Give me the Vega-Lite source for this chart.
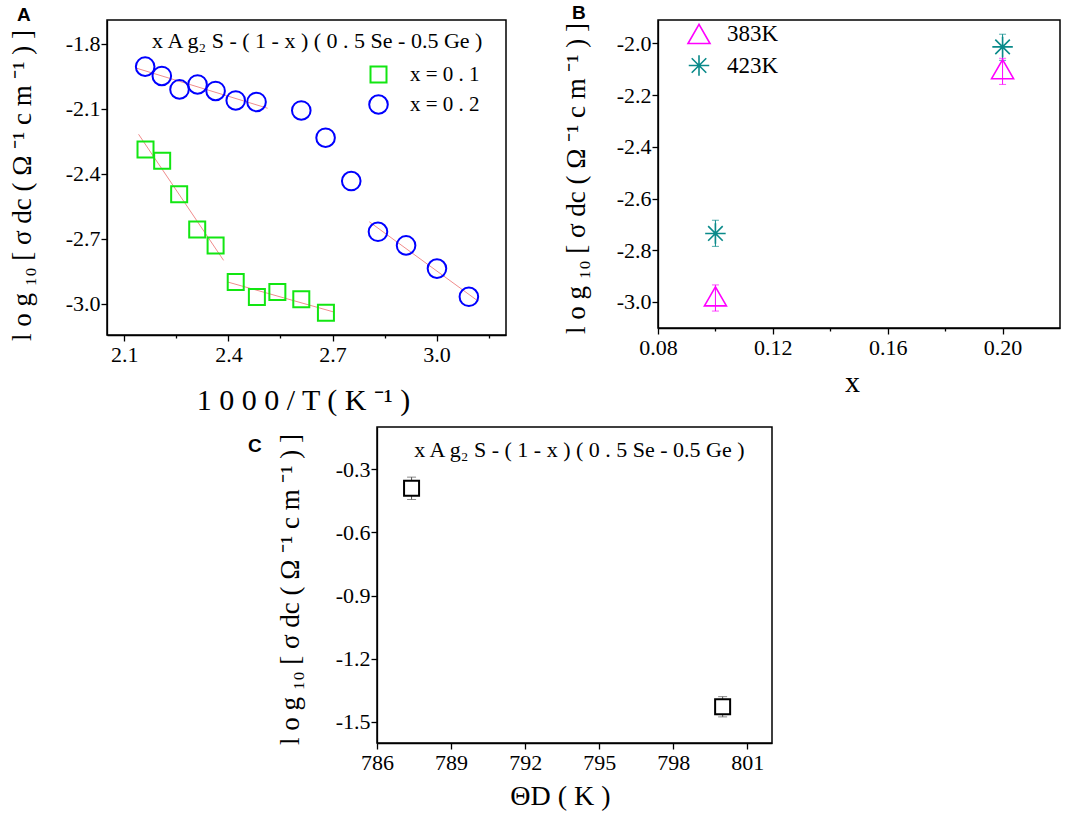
{
  "$schema": "https://vega.github.io/schema/vega-lite/v6.json",
  "padding": {"left": 7, "top": 3, "right": 0, "bottom": 0},
  "background": "white",
  "bounds": "flush",
  "spacing": 407,
  "resolve": {
    "scale": {"color": "independent", "shape": "independent", "size": "independent", "stroke": "independent", "fill": "independent"},
    "legend": {"color": "independent", "shape": "independent"}
  },
  "config": {
    "view": {"stroke": "black", "strokeWidth": 1.5},
    "font": "Liberation Serif",
    "point": {"opacity": 1},
    "axis": {
      "grid": false,
      "domainColor": "black",
      "domainWidth": 1.3,
      "tickColor": "black",
      "tickWidth": 1.3,
      "labelColor": "black",
      "labelFont": "Liberation Serif",
      "labelFontSize": 22,
      "labelFlush": false,
      "labelOverlap": false,
      "labelBound": false,
      "titleColor": "black",
      "titleFont": "Liberation Serif",
      "titleFontWeight": "normal"
    },
    "axisX": {"labelPadding": 3},
    "axisY": {"labelPadding": 1},
    "legend": {"labelFont": "Liberation Serif", "labelColor": "black", "labelFontSize": 21, "padding": 0}
  },
  "datasets": {
    "a_pts": [
      {"series": "x = 0 . 2", "x": 2.160, "y": -1.906},
      {"series": "x = 0 . 2", "x": 2.208, "y": -1.949},
      {"series": "x = 0 . 2", "x": 2.259, "y": -2.011},
      {"series": "x = 0 . 2", "x": 2.311, "y": -1.988},
      {"series": "x = 0 . 2", "x": 2.363, "y": -2.018},
      {"series": "x = 0 . 2", "x": 2.421, "y": -2.062},
      {"series": "x = 0 . 2", "x": 2.481, "y": -2.069},
      {"series": "x = 0 . 2", "x": 2.610, "y": -2.108},
      {"series": "x = 0 . 2", "x": 2.680, "y": -2.234},
      {"series": "x = 0 . 2", "x": 2.754, "y": -2.434},
      {"series": "x = 0 . 2", "x": 2.831, "y": -2.668},
      {"series": "x = 0 . 2", "x": 2.912, "y": -2.731},
      {"series": "x = 0 . 2", "x": 3.001, "y": -2.838},
      {"series": "x = 0 . 2", "x": 3.093, "y": -2.968},
      {"series": "x = 0 . 1", "x": 2.161, "y": -2.288},
      {"series": "x = 0 . 1", "x": 2.209, "y": -2.340},
      {"series": "x = 0 . 1", "x": 2.258, "y": -2.495},
      {"series": "x = 0 . 1", "x": 2.310, "y": -2.658},
      {"series": "x = 0 . 1", "x": 2.363, "y": -2.731},
      {"series": "x = 0 . 1", "x": 2.421, "y": -2.900},
      {"series": "x = 0 . 1", "x": 2.482, "y": -2.969},
      {"series": "x = 0 . 1", "x": 2.541, "y": -2.946},
      {"series": "x = 0 . 1", "x": 2.610, "y": -2.980},
      {"series": "x = 0 . 1", "x": 2.681, "y": -3.042}
    ],
    "a_fit": [
      {"seg": "c1", "x": 2.131, "y": -1.911},
      {"seg": "c1", "x": 2.513, "y": -2.098},
      {"seg": "c2", "x": 2.806, "y": -2.622},
      {"seg": "c2", "x": 3.117, "y": -2.985},
      {"seg": "s1", "x": 2.141, "y": -2.218},
      {"seg": "s1", "x": 2.386, "y": -2.800},
      {"seg": "s2", "x": 2.398, "y": -2.900},
      {"seg": "s2", "x": 2.703, "y": -3.038}
    ],
    "b_pts": [
      {"T": "383K", "bar": "383K bar", "x": 0.10, "y": -2.978, "lo": -3.035, "hi": -2.934},
      {"T": "383K", "bar": "383K bar", "x": 0.20, "y": -2.100, "lo": -2.159, "hi": -2.058},
      {"T": "423K", "bar": "423K bar", "x": 0.10, "y": -2.735, "lo": -2.785, "hi": -2.684},
      {"T": "423K", "bar": "423K bar", "x": 0.20, "y": -2.014, "lo": -2.066, "hi": -1.965}
    ],
    "c_pts": [
      {"theta": 787.4, "y": -0.391, "lo": -0.444, "hi": -0.338},
      {"theta": 800.0, "y": -1.428, "lo": -1.476, "hi": -1.380}
    ]
  },
  "vconcat": [
    {
      "bounds": "flush",
      "spacing": 152,
      "resolve": {
        "scale": {"color": "independent", "shape": "independent", "size": "independent", "stroke": "independent", "fill": "independent"},
        "legend": {"color": "independent", "shape": "independent"}
      },
      "hconcat": [
        {
          "width": 399,
          "height": 315,
          "title": {"text": "A", "anchor": "start", "frame": "group", "dx": -90, "dy": 20, "offset": 0, "font": "Liberation Sans", "fontSize": 19, "fontWeight": "bold", "baseline": "alphabetic", "color": "black"},
          "layer": [
            {
              "data": {"name": "a_fit"},
              "mark": {"type": "line", "color": "#f08c8c", "strokeWidth": 1},
              "encoding": {
                "x": {"field": "x", "type": "quantitative", "scale": {"domain": [2.05, 3.2], "nice": false, "zero": false},
                  "axis": {
                    "title": "1 0 0 0 / T ( K ⁻¹ )",
                    "values": [2.1, 2.25, 2.4, 2.55, 2.7, 2.85, 3.0, 3.15],
                    "labelExpr": "indexof([2.1, 2.4, 2.7, 3.0], datum.value) >= 0 ? format(datum.value, '.1f') : ''",
                    "tickSize": {"condition": {"test": "indexof([2.1, 2.4, 2.7, 3.0], datum.value) >= 0", "value": 6}, "value": 3},
                    "titleFontSize": 30, "titleX": 196, "titleY": 74, "titleBaseline": "alphabetic", "titleAlign": "center"
                  }},
                "y": {"field": "y", "type": "quantitative", "scale": {"domain": [-3.1445, -1.6906], "nice": false, "zero": false},
                  "axis": {
                    "title": "l o g ₁₀ [ σ dc ( Ω ⁻¹  c m ⁻¹ ) ]",
                    "values": [-1.8, -1.95, -2.1, -2.25, -2.4, -2.55, -2.7, -2.85, -3.0],
                    "labelExpr": "indexof([-1.8, -2.1, -2.4, -2.7, -3.0], datum.value) >= 0 ? replace(format(datum.value, '.1f'), '−', '-') : ''",
                    "tickSize": {"condition": {"test": "indexof([-1.8, -2.1, -2.4, -2.7, -3.0], datum.value) >= 0", "value": 6}, "value": 3},
                    "titleFontSize": 27, "titleX": -85, "titleY": 165, "titleBaseline": "middle", "titleAlign": "center", "titleAngle": 270
                  }},
                "detail": {"field": "seg"}
              }
            },
            {
              "data": {"name": "a_pts"},
              "mark": {"type": "point", "filled": false, "strokeWidth": 2, "opacity": 1},
              "encoding": {
                "x": {"field": "x", "type": "quantitative"},
                "y": {"field": "y", "type": "quantitative"},
                "shape": {"field": "series", "type": "nominal", "scale": {"domain": ["x = 0 . 1", "x = 0 . 2"], "range": ["square", "circle"]},
                  "legend": {"title": null, "orient": "none", "legendX": 261, "legendY": 44, "symbolSize": 160, "symbolStrokeWidth": 2, "symbolOpacity": 1, "symbolFillColor": "transparent", "labelOffset": 21, "rowPadding": 4}},
                "color": {"field": "series", "type": "nominal", "scale": {"domain": ["x = 0 . 1", "x = 0 . 2"], "range": ["#12e612", "#0000ff"]},
                  "legend": {"title": null, "orient": "none", "legendX": 261, "legendY": 44, "symbolSize": 160, "symbolStrokeWidth": 2, "symbolOpacity": 1, "symbolFillColor": "transparent", "labelOffset": 21, "rowPadding": 4}},
                "size": {"field": "series", "type": "nominal", "scale": {"domain": ["x = 0 . 1", "x = 0 . 2"], "range": [256, 346]}, "legend": null}
              }
            },
            {
              "data": {"values": [{"x": 2.656, "y": -1.82, "label": "x A g₂ S - ( 1 - x ) ( 0 . 5 Se - 0.5 Ge )"}]},
              "mark": {"type": "text", "fontSize": 22, "font": "Liberation Serif", "baseline": "alphabetic", "align": "center", "color": "black"},
              "encoding": {
                "x": {"field": "x", "type": "quantitative"},
                "y": {"field": "y", "type": "quantitative"},
                "text": {"field": "label"}
              }
            }
          ]
        },
        {
          "width": 402,
          "height": 308,
          "data": {"name": "b_pts"},
          "title": {"text": "B", "anchor": "start", "frame": "group", "dx": -86, "dy": 19, "offset": 0, "font": "Liberation Sans", "fontSize": 19, "fontWeight": "bold", "baseline": "alphabetic", "color": "black"},
          "layer": [
            {
              "mark": {"type": "rule", "strokeWidth": 1},
              "encoding": {
                "x": {"field": "x", "type": "quantitative", "scale": {"domain": [0.08, 0.22], "nice": false, "zero": false},
                  "axis": {
                    "title": "x",
                    "values": [0.08, 0.10, 0.12, 0.14, 0.16, 0.18, 0.20],
                    "labelExpr": "indexof([0.08, 0.12, 0.16, 0.2], datum.value) >= 0 ? format(datum.value, '.2f') : ''",
                    "tickSize": {"condition": {"test": "indexof([0.08, 0.12, 0.16, 0.2], datum.value) >= 0", "value": 6}, "value": 3},
                    "titleFontSize": 30, "titleX": 194, "titleY": 63, "titleBaseline": "alphabetic", "titleAlign": "center"
                  }},
                "y": {"field": "lo", "type": "quantitative", "scale": {"domain": [-3.1005, -1.910], "nice": false, "zero": false},
                  "axis": {
                    "title": "l o g ₁₀ [ σ dc ( Ω ⁻¹  c m ⁻¹ ) ]",
                    "values": [-2.0, -2.1, -2.2, -2.3, -2.4, -2.5, -2.6, -2.7, -2.8, -2.9, -3.0],
                    "labelExpr": "indexof([-2.0, -2.2, -2.4, -2.6, -2.8, -3.0], datum.value) >= 0 ? replace(format(datum.value, '.1f'), '−', '-') : ''",
                    "tickSize": {"condition": {"test": "indexof([-2.0, -2.2, -2.4, -2.6, -2.8, -3.0], datum.value) >= 0", "value": 6}, "value": 3},
                    "titleFontSize": 27, "titleX": -82, "titleY": 158, "titleBaseline": "middle", "titleAlign": "center", "titleAngle": 270
                  }},
                "y2": {"field": "hi"},
                "stroke": {"field": "bar", "type": "nominal", "scale": {"domain": ["383K bar", "423K bar"], "range": ["#ff00ff", "#0a8a8a"]}, "legend": null}
              }
            },
            {
              "mark": {"type": "tick", "orient": "horizontal", "size": 7, "thickness": 1},
              "encoding": {
                "x": {"field": "x", "type": "quantitative"},
                "y": {"field": "lo", "type": "quantitative"},
                "fill": {"field": "bar", "type": "nominal", "scale": {"domain": ["383K bar", "423K bar"], "range": ["#ff00ff", "#0a8a8a"]}, "legend": null}
              }
            },
            {
              "mark": {"type": "tick", "orient": "horizontal", "size": 7, "thickness": 1},
              "encoding": {
                "x": {"field": "x", "type": "quantitative"},
                "y": {"field": "hi", "type": "quantitative"},
                "fill": {"field": "bar", "type": "nominal", "legend": null}
              }
            },
            {
              "mark": {"type": "point", "filled": false, "strokeWidth": 1.6, "opacity": 1},
              "encoding": {
                "x": {"field": "x", "type": "quantitative"},
                "y": {"field": "y", "type": "quantitative"},
                "shape": {"field": "T", "type": "nominal",
                  "scale": {"domain": ["383K", "423K"], "range": ["triangle-up", "M0,-1L0,1M-1,0L1,0M-0.71,-0.71L0.71,0.71M-0.71,0.71L0.71,-0.71"]},
                  "legend": {"title": null, "orient": "none", "legendX": 29, "legendY": 2, "symbolSize": 290, "symbolStrokeWidth": 1.6, "symbolOpacity": 1, "symbolFillColor": "transparent", "labelFontSize": 23, "labelOffset": 16, "rowPadding": 5}},
                "color": {"field": "T", "type": "nominal", "scale": {"domain": ["383K", "423K"], "range": ["#ff00ff", "#0a8a8a"]},
                  "legend": {"title": null, "orient": "none", "legendX": 29, "legendY": 2, "symbolSize": 290, "symbolStrokeWidth": 1.6, "symbolOpacity": 1, "symbolFillColor": "transparent", "labelFontSize": 23, "labelOffset": 16, "rowPadding": 5}},
                "size": {"field": "T", "type": "nominal", "scale": {"domain": ["383K", "423K"], "range": [484, 420]}, "legend": null}
              }
            }
          ]
        }
      ]
    },
    {
      "bounds": "flush",
      "spacing": 152,
      "hconcat": [
        {"width": 118, "height": 1, "data": {"values": []}, "mark": "point", "view": {"stroke": null}},
        {
          "width": 395,
          "height": 316,
          "title": {"text": "C", "anchor": "start", "frame": "group", "dx": -129, "dy": 44, "offset": 0, "font": "Liberation Sans", "fontSize": 19, "fontWeight": "bold", "baseline": "alphabetic", "color": "black"},
          "layer": [
            {
              "data": {"name": "c_pts"},
              "mark": {"type": "rule", "color": "#555555", "strokeWidth": 1},
              "encoding": {
                "x": {"field": "theta", "type": "quantitative", "scale": {"domain": [786, 802], "nice": false, "zero": false},
                  "axis": {
                    "title": "ΘD ( K )",
                    "values": [786, 787.5, 789, 790.5, 792, 793.5, 795, 796.5, 798, 799.5, 801],
                    "labelExpr": "indexof([786, 789, 792, 795, 798, 801], datum.value) >= 0 ? format(datum.value, 'd') : ''",
                    "tickSize": {"condition": {"test": "indexof([786, 789, 792, 795, 798, 801], datum.value) >= 0", "value": 6}, "value": 3},
                    "titleFontSize": 28, "titleX": 183, "titleY": 61, "titleBaseline": "alphabetic", "titleAlign": "center"
                  }},
                "y": {"field": "lo", "type": "quantitative", "scale": {"domain": [-1.6, -0.1], "nice": false, "zero": false},
                  "axis": {
                    "title": "l o g ₁₀ [ σ dc ( Ω ⁻¹  c m ⁻¹ ) ]",
                    "values": [-0.15, -0.3, -0.45, -0.6, -0.75, -0.9, -1.05, -1.2, -1.35, -1.5],
                    "labelExpr": "indexof([-0.3, -0.6, -0.9, -1.2, -1.5], datum.value) >= 0 ? replace(format(datum.value, '.1f'), '−', '-') : ''",
                    "tickSize": {"condition": {"test": "indexof([-0.3, -0.6, -0.9, -1.2, -1.5], datum.value) >= 0", "value": 6}, "value": 3},
                    "titleFontSize": 27, "titleX": -87, "titleY": 162, "titleBaseline": "middle", "titleAlign": "center", "titleAngle": 270
                  }},
                "y2": {"field": "hi"}
              }
            },
            {
              "data": {"name": "c_pts"},
              "mark": {"type": "tick", "orient": "horizontal", "size": 9, "thickness": 1, "color": "#555555"},
              "encoding": {
                "x": {"field": "theta", "type": "quantitative"},
                "y": {"field": "lo", "type": "quantitative"}
              }
            },
            {
              "data": {"name": "c_pts"},
              "mark": {"type": "tick", "orient": "horizontal", "size": 9, "thickness": 1, "color": "#555555"},
              "encoding": {
                "x": {"field": "theta", "type": "quantitative"},
                "y": {"field": "hi", "type": "quantitative"}
              }
            },
            {
              "data": {"name": "c_pts"},
              "mark": {"type": "point", "shape": "square", "filled": false, "fill": "white", "fillOpacity": 1, "opacity": 1, "color": "black", "strokeWidth": 2, "size": 225},
              "encoding": {
                "x": {"field": "theta", "type": "quantitative"},
                "y": {"field": "y", "type": "quantitative"}
              }
            },
            {
              "data": {"values": [{"theta": 794.2, "y": -0.241, "label": "x A g₂ S - ( 1 - x ) ( 0 . 5 Se - 0.5 Ge )"}]},
              "mark": {"type": "text", "fontSize": 22, "font": "Liberation Serif", "baseline": "alphabetic", "align": "center", "color": "black"},
              "encoding": {
                "x": {"field": "theta", "type": "quantitative"},
                "y": {"field": "y", "type": "quantitative"},
                "text": {"field": "label"}
              }
            }
          ]
        }
      ]
    }
  ]
}
